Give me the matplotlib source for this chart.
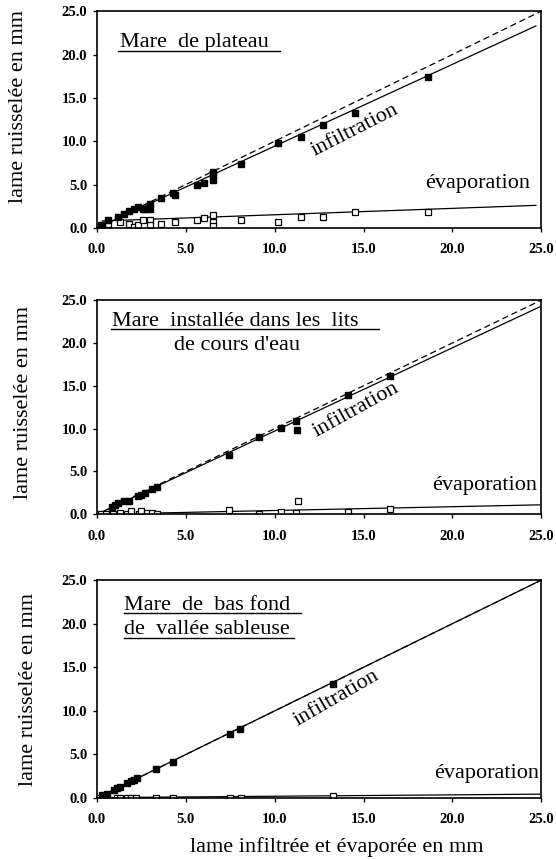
import matplotlib
matplotlib.use("Agg")
import matplotlib.pyplot as plt

plt.rcParams.update({
    "font.family": ["Liberation Serif", "DejaVu Serif"],
    "font.size": 16,
    "axes.linewidth": 1.2,
})

# ---- data ----
# panel 1 : mare de plateau
p1_inf_x = [0.3, 0.6, 1.2, 1.5, 1.8, 2.1, 2.3, 2.6, 2.7, 3.0, 3.0, 3.6, 4.3, 4.4, 5.6, 6.0, 6.5, 6.5, 6.5, 8.1, 10.2, 11.5, 12.7, 14.5, 18.6]
p1_inf_y = [0.3, 0.9, 1.3, 1.6, 2.0, 2.2, 2.4, 2.2, 2.2, 2.8, 2.2, 3.5, 4.0, 3.8, 5.0, 5.2, 5.5, 6.1, 6.5, 7.4, 9.8, 10.5, 11.9, 13.2, 17.4]
p1_eva_x = [0.2, 0.6, 1.3, 1.8, 2.1, 2.3, 2.6, 3.0, 3.0, 3.6, 4.4, 5.6, 6.0, 6.5, 6.5, 6.5, 8.1, 10.2, 11.5, 12.7, 14.5, 18.6]
p1_eva_y = [0.3, 0.5, 0.7, 0.5, 0.1, 0.3, 0.9, 0.9, 0.3, 0.5, 0.7, 0.9, 1.1, 1.5, 0.7, 0.2, 0.9, 0.7, 1.3, 1.3, 1.8, 1.8]
p1_fit_inf = ([0.0, 24.7], [0.0, 23.3])
p1_fit_eva = ([0.3, 24.7], [0.8, 2.6])

# panel 2 : mare installee dans les lits de cours d'eau
p2_inf_x = [0.84, 1.0, 1.2, 1.5, 1.8, 2.3, 2.5, 2.7, 3.1, 3.4, 7.4, 9.1, 10.35, 11.2, 11.25, 14.1, 16.5]
p2_inf_y = [0.9, 1.1, 1.3, 1.55, 1.5, 2.1, 2.25, 2.45, 2.95, 3.15, 6.9, 9.0, 10.1, 10.9, 9.85, 13.9, 16.1]
p2_eva_x = [0.0, 0.2, 0.5, 0.9, 1.3, 1.7, 1.9, 2.35, 2.5, 2.8, 3.1, 3.4, 7.4, 9.1, 10.35, 11.2, 11.3, 14.1, 16.5]
p2_eva_y = [0.0, 0.0, 0.0, 0.0, 0.1, 0.0, 0.4, 0.0, 0.4, 0.2, 0.1, 0.0, 0.5, 0.0, 0.25, 0.15, 1.5, 0.3, 0.6]
p2_fit_inf = ([0.0, 24.9], [0.0, 24.2])
p2_fit_eva = ([0.0, 24.9], [0.0, 1.1])

# panel 3 : mare de bas fond de vallee sableuse
p3_inf_x = [0.3, 0.56, 0.94, 1.13, 1.3, 1.7, 1.9, 2.1, 2.25, 3.3, 4.27, 7.5, 8.05, 13.3]
p3_inf_y = [0.3, 0.5, 0.9, 1.15, 1.25, 1.75, 1.95, 2.1, 2.3, 3.3, 4.13, 7.3, 7.9, 13.1]
p3_eva_x = [0.1, 0.5, 1.1, 1.3, 1.7, 1.9, 2.2, 3.3, 4.3, 7.5, 8.1, 13.3]
p3_eva_y = [0.0, 0.0, 0.0, 0.0, 0.0, 0.0, 0.0, 0.0, 0.05, 0.05, 0.05, 0.2]
p3_fit_inf = ([0.0, 25.0], [0.0, 25.0])
p3_fit_eva = ([0.0, 24.9], [0.05, 0.45])

one_to_one = ([0.0, 25.0], [0.0, 25.0])
ticks = [0, 5, 10, 15, 20, 25]
ylabel = "lame ruisselée en mm"
xlabel = "lame infiltrée et évaporée en mm"

panels = [
    dict(inf=(p1_inf_x, p1_inf_y), eva=(p1_eva_x, p1_eva_y), fi=p1_fit_inf, fe=p1_fit_eva,
         title=[("Mare  de plateau", 1.3, 20.9, "left")],
         ul=[(1.2, 10.3, 20.4)],
         inf_lbl=(14.5, 11.2, 27), eva_lbl=(21.4, 5.1), ylab=(-0.155, 0.562)),
    dict(inf=(p2_inf_x, p2_inf_y), eva=(p2_eva_x, p2_eva_y), fi=p2_fit_inf, fe=p2_fit_eva,
         title=[("Mare  installée dans les  lits", 0.85, 22.0, "left"),
                ("de cours d'eau", 7.9, 19.2, "center")],
         ul=[(0.8, 15.85, 21.6)],
         inf_lbl=(14.6, 12.2, 29), eva_lbl=(21.8, 3.4), ylab=(-0.144, 0.52)),
    dict(inf=(p3_inf_x, p3_inf_y), eva=(p3_eva_x, p3_eva_y), fi=p3_fit_inf, fe=p3_fit_eva,
         title=[("Mare  de  bas fond", 1.5, 21.6, "left"),
                ("de  vallée sableuse", 1.5, 18.8, "left")],
         ul=[(1.5, 11.5, 21.2), (1.5, 11.1, 18.4)],
         inf_lbl=(13.5, 11.4, 30), eva_lbl=(21.9, 2.8), ylab=(-0.133, 0.5)),
]

fig = plt.figure(figsize=(5.56, 8.6), dpi=100)
rects = [(0.1745, 0.735, 0.799, 0.252),
         (0.1745, 0.402, 0.799, 0.249),
         (0.1745, 0.072, 0.799, 0.2535)]

for rect, p in zip(rects, panels):
    ax = fig.add_axes(rect)
    ax.plot(*one_to_one, color="black", lw=0.9, ls=(0, (5, 3)))
    ax.plot(*p["fi"], color="black", lw=0.9)
    ax.plot(*p["fe"], color="black", lw=0.9)
    ax.plot(*p["eva"], ls="none", marker="s", ms=4.5, mfc="white", mec="black", mew=0.9)
    ax.plot(*p["inf"], ls="none", marker="s", ms=4.5, mfc="black", mec="black")
    for txt, x, y, ha in p["title"]:
        ax.text(x, y, txt, ha=ha, va="baseline", fontsize=16)
    for x0, x1, y in p["ul"]:
        ax.plot([x0, x1], [y, y], color="black", lw=1.0)
    ix, iy, rot = p["inf_lbl"]
    ax.text(ix, iy, "infiltration", rotation=rot, ha="center", va="center",
            rotation_mode="anchor", fontsize=16)
    ex, ey = p["eva_lbl"]
    ax.text(ex, ey, "évaporation", ha="center", va="center", fontsize=16)

    ax.set_xlim(0, 25)
    ax.set_ylim(0, 25)
    ax.set_xticks(ticks)
    ax.set_yticks(ticks)
    ax.set_xticklabels([f"{t:.1f}" for t in ticks], fontweight="bold", fontsize=10.5)
    ax.set_yticklabels([f"{t:.1f}" for t in ticks], fontweight="bold", fontsize=10.5)
    ax.tick_params(direction="out", length=3, width=1)
    ax.tick_params(axis="x", pad=8)
    ax.tick_params(axis="y", pad=4)
    ax.set_ylabel(ylabel, fontsize=16)
    ax.yaxis.set_label_coords(*p["ylab"])

fig.text(337 / 556, 1 - 847 / 860, xlabel, ha="center", va="center", fontsize=16)

fig.savefig("out.png", dpi=100)
